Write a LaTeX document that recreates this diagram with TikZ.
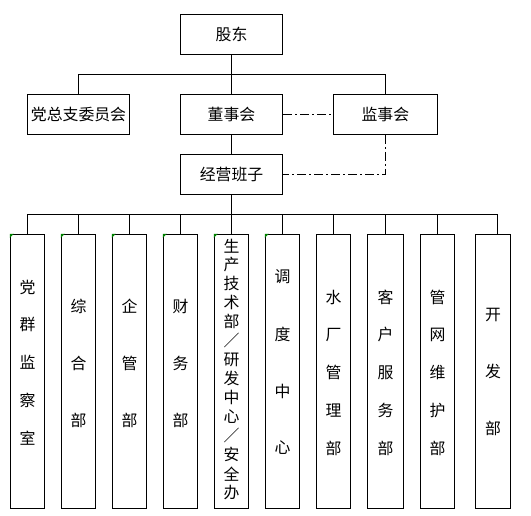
\documentclass[tikz,border=0pt]{standalone}
\usepackage{fontspec}
\newfontfamily\cjk{Noto Sans CJK SC}
\usetikzlibrary{positioning,calc}

\begin{document}
\begin{tikzpicture}[x=0.75pt,y=-0.75pt,line width=0.75pt,
    box/.style={draw, minimum width=76.5pt, minimum height=30pt, inner sep=0pt,
        font=\cjk\fontsize{11.9pt}{14pt}\selectfont},
    dept/.style={draw, minimum height=205.5pt, inner sep=0pt},
    vchar/.style={inner sep=0pt, font=\cjk\fontsize{11.9pt}{14pt}\selectfont},
    dashdot/.style={dash pattern=on 6.75pt off 2.25pt on 1.5pt off 2.25pt}]
    \useasboundingbox (0,0) rectangle (531,516);

    % Upper boxes
    \node[box] (gd) at (231.5,34.3) {股东};
    \node[box] (dz) at (78.5,114.3) {党总支委员会};
    \node[box] (dsh) at (231.5,114.3) {董事会};
    \node[box, minimum width=77.7pt] (jsh) at (385.4,114.3) {监事会};
    \node[box] (jy) at (231.5,174.3) {经营班子};

    % Departments: x / width / characters / first char y / spacing
    \foreach \i/\x/\w/\txt/\ty/\sp in {
        1/27.5/25.8/{党,群,监,察,室}/287/37.8,
        2/78.5/25.8/{综,合,部}/306/57,
        3/129.5/25.8/{企,管,部}/306/57,
        4/180.5/25.8/{财,务,部}/306/57,
        5/231.5/25.8/{生,产,技,术,部,／,研,发,中,心,／,安,全,办}/246/18.98,
        6/282.5/25.8/{调,度,中,心}/277/57,
        7/333.5/25.8/{水,厂,管,理,部}/297/37.8,
        8/385.5/27.3/{客,户,服,务,部}/297/37.8,
        9/437.5/25.8/{管,网,维,护,部}/297/37.8,
        10/493/26.6/{开,发,部}/315/56.5}{
        \node[dept, minimum width=\w pt] (d\i) at (\x,371.3) {};
        \foreach \c [count=\k] in \txt
            \node[vchar] (t\i-\k) at (\x,{\ty+(\k-1)*\sp}) {\c};
    }
    % green corner marks
    \foreach \i in {1,...,6}
        \fill[green!50!black] (d\i.north west) -- ++(4,0) -- ++(-4,4) -- cycle;

    % Lines
    \coordinate (b1) at ($(gd.south)!0.5!(dsh.north)$);
    \draw (gd.south) -- (dsh.north);
    \draw (dz.north) |- (b1) -| (jsh.north);
    \draw (dsh.south) -- (jy.north);
    \draw[dashdot] (dsh.east) -- (jsh.west);
    \draw[dashdot] (jsh.south) |- (jy.east);

    \coordinate (b2) at ($(jy.south)!0.5!(d5.north)$);
    \draw (jy.south) -- (d5.north);
    \draw (d1.north |- b2) -- ([xshift=3]d10.north |- b2);
    \foreach \i in {1,...,9}
        \draw (d\i.north) -- (d\i.north |- b2);
    \draw ([xshift=3]d10.north) -- ([xshift=3]d10.north |- b2);
\end{tikzpicture}
\end{document}
